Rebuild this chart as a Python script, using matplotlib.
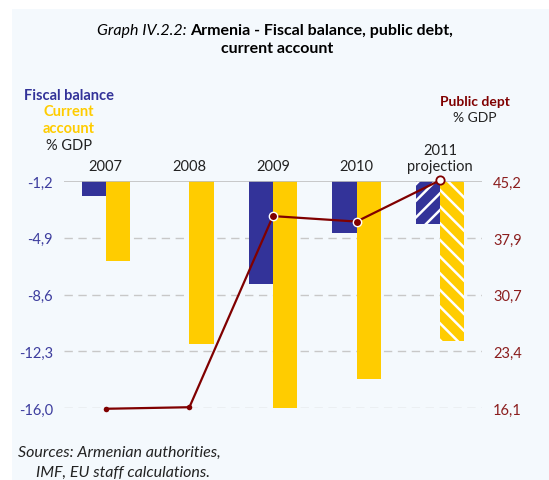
import numpy as np
import matplotlib
matplotlib.use("Agg")
import matplotlib.pyplot as plt
from matplotlib.patches import Rectangle

# Data (% of GDP)
years = ["2007", "2008", "2009", "2010", "2011\nprojection"]
fiscal_balance = [-2.2, -0.8, -7.9, -4.6, -4.0]
current_account = [-6.4, -11.8, -16.0, -14.1, -11.6]
public_debt = [16.0, 16.2, 40.7, 40.0, 45.3]
projection = [False, False, False, False, True]

left_ticks = [-16.0, -12.3, -8.6, -4.9, -1.2]
left_labels = ["-16,0", "-12,3", "-8,6", "-4,9", "-1,2"]
right_ticks = [16.1, 23.4, 30.7, 37.9, 45.2]
right_labels = ["16,1", "23,4", "30,7", "37,9", "45,2"]

BLUE = "#333399"
YELLOW = "#FFCC00"
DEBT = "#800000"
LBLUE_TXT = "#3D3D9E"
RED_TXT = "#8B1E1E"
BG = "#F4F9FD"

plt.rcParams["font.family"] = ["Lato", "DejaVu Sans"]
plt.rcParams["hatch.linewidth"] = 1.8

W, H = 549, 481
fig = plt.figure(figsize=(W / 100, H / 100), dpi=100)
fig.patch.set_facecolor("white")
fig.patches.append(Rectangle((12 / W, 0), 1 - 12 / W, 1 - 10 / H,
                             transform=fig.transFigure, facecolor=BG,
                             edgecolor="none", zorder=-10))

ax = fig.add_axes([64 / W, 1 - 409 / H, (482 - 64) / W, (409 - 182) / H])
ax.set_facecolor("none")
x = np.arange(len(years))
bw = 0.29

for i in x:
    hatch_fb = "//" if projection[i] else None
    hatch_ca = "\\\\" if projection[i] else None
    ax.bar(x[i] - bw / 2, fiscal_balance[i], width=bw, color=BLUE,
           edgecolor="white" if projection[i] else BLUE,
           linewidth=0, hatch=hatch_fb, zorder=2)
    ax.bar(x[i] + bw / 2, current_account[i], width=bw, color=YELLOW,
           edgecolor="white" if projection[i] else YELLOW,
           linewidth=0, hatch=hatch_ca, zorder=2)

ax.set_xlim(-0.5, len(years) - 0.5)
ax.set_ylim(left_ticks[0], left_ticks[-1])
ax.set_yticks(left_ticks)
ax.set_yticklabels(left_labels)
ax.tick_params(axis="y", length=0, pad=8, labelsize=10.5, labelcolor=LBLUE_TXT)
ax.set_xticks([])
for s in ax.spines.values():
    s.set_visible(False)
for t in left_ticks[:-1]:
    ax.axhline(t, color="#C8C8C8", lw=1, ls=(0, (6, 4)), zorder=0)
ax.axhline(left_ticks[-1], color="#C0C0C0", lw=1.2, zorder=3)

# Year labels above the plot
for i, yl in enumerate(years):
    ax.text(x[i], 1.035, yl, transform=ax.get_xaxis_transform(),
            ha="center", va="bottom", fontsize=10.5, color="#222222",
            linespacing=1.15)

# Public debt on secondary axis
ax2 = ax.twinx()
ax2.set_ylim(right_ticks[0], right_ticks[-1])
ax2.set_yticks(right_ticks)
ax2.set_yticklabels(right_labels)
ax2.tick_params(axis="y", length=0, pad=8, labelsize=10.5, labelcolor=RED_TXT)
for s in ax2.spines.values():
    s.set_visible(False)
ax2.plot(x, public_debt, color=DEBT, lw=1.6, zorder=4, clip_on=False)
ax2.plot(x[:2], public_debt[:2], "o", color=DEBT, ms=4, mew=0,
         zorder=5, clip_on=False)
ax2.plot(x[2:4], public_debt[2:4], "o", color=DEBT, ms=6, mec="white",
         mew=1.0, zorder=5, clip_on=False)
ax2.plot(x[4:], public_debt[4:], "o", mfc="white", mec=DEBT, ms=6,
         mew=1.3, zorder=5, clip_on=False)

# Title
fig.canvas.draw()
r = fig.canvas.get_renderer()
t1 = fig.text(0, 0, "Graph IV.2.2: ", fontsize=11.5, style="italic")
t2 = fig.text(0, 0, "Armenia - Fiscal balance, public debt,", fontsize=11.5,
              weight="bold")
w1 = t1.get_window_extent(r).width
w2 = t2.get_window_extent(r).width
x0 = 275 - (w1 + w2) / 2
ty = H - 31
t1.set_position((x0 / W, ty / H)); t1.set_va("center")
t2.set_position(((x0 + w1) / W, ty / H)); t2.set_va("center")
fig.text(277 / W, 1 - 49 / H, "current account", fontsize=11.5,
         weight="bold", ha="center", va="center")

# Axis captions
fig.text(69 / W, 1 - 96 / H, "Fiscal balance", fontsize=10.5, weight="bold",
         color=BLUE, ha="center", va="center")
fig.text(69 / W, 1 - 112 / H, "Current", fontsize=10.5, weight="bold",
         color=YELLOW, ha="center", va="center")
fig.text(69 / W, 1 - 129 / H, "account", fontsize=10.5, weight="bold",
         color=YELLOW, ha="center", va="center")
fig.text(69 / W, 1 - 146 / H, "% GDP", fontsize=10.5, color="#222222",
         ha="center", va="center")
fig.text(475 / W, 1 - 102 / H, "Public dept", fontsize=10, weight="bold",
         color=DEBT, ha="center", va="center")
fig.text(475 / W, 1 - 118 / H, "% GDP", fontsize=10, color="#222222",
         ha="center", va="center")

# Sources
fig.text(18 / W, 1 - 453 / H, "Sources: Armenian authorities,", fontsize=11.5,
         style="italic", color="#222222", va="center")
fig.text(36 / W, 1 - 473 / H, "IMF, EU staff calculations.", fontsize=11.5,
         style="italic", color="#222222", va="center")

fig.savefig("out.png", dpi=100)
